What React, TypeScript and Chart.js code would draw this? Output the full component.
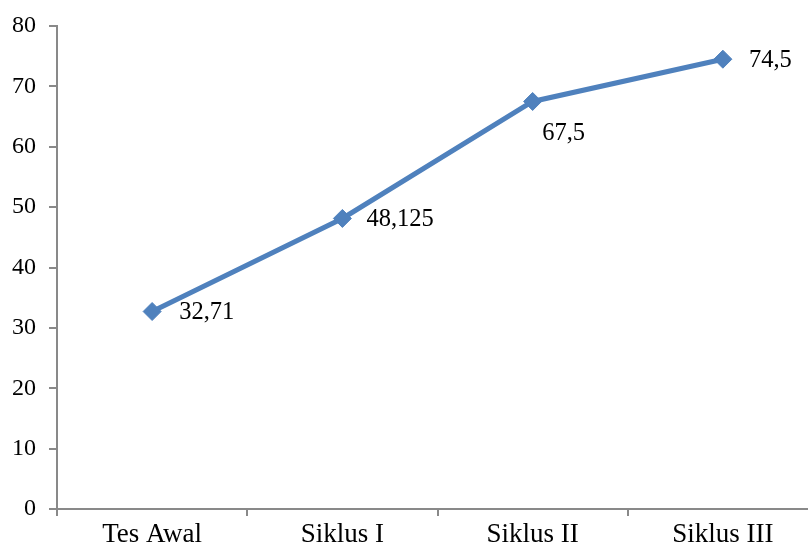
import React, { useEffect, useRef } from "react";
import { Chart, registerables } from "chart.js";

Chart.register(...registerables);

const categories = ["Tes Awal", "Siklus I", "Siklus II", "Siklus III"];
const values = [32.71, 48.125, 67.5, 74.5];
const valueLabels = ["32,71", "48,125", "67,5", "74,5"];
const yTicks = [0, 10, 20, 30, 40, 50, 60, 70, 80];

const FONT = "'Liberation Serif', 'Times New Roman', serif";
const LINE_COLOR = "#4F81BD";
const AXIS_COLOR = "#898989";

// label placement relative to each point: [dx, dy, align]
const labelPlacement: [number, number, CanvasTextAlign][] = [
  [27, 1, "left"],
  [24, 1, "left"],
  [31, 32, "center"],
  [26, 1, "left"],
];

const labelPlugin = {
  id: "valueLabels",
  afterDatasetsDraw(chart: any) {
    const ctx = chart.ctx;
    const meta = chart.getDatasetMeta(0);
    ctx.save();
    ctx.font = `24.5px ${FONT}`;
    ctx.fillStyle = "#000";
    ctx.textBaseline = "middle";
    meta.data.forEach((pt: any, i: number) => {
      const [dx, dy, align] = labelPlacement[i];
      ctx.textAlign = align;
      ctx.fillText(valueLabels[i], pt.x + dx, pt.y + dy);
    });
    ctx.restore();
  },
};

export default function App() {
  const ref = useRef<HTMLCanvasElement | null>(null);
  useEffect(() => {
    if (!ref.current) return;
    const chart = new Chart(ref.current, {
      type: "line",
      data: {
        labels: categories,
        datasets: [
          {
            data: values,
            borderColor: LINE_COLOR,
            backgroundColor: LINE_COLOR,
            borderWidth: 5,
            pointStyle: "rectRot",
            pointRadius: 9,
            pointHoverRadius: 9,
            pointBackgroundColor: LINE_COLOR,
            pointBorderColor: LINE_COLOR,
            pointBorderWidth: 1,
            tension: 0,
          },
        ],
      },
      options: {
        animation: false,
        responsive: false,
        maintainAspectRatio: false,
        layout: { padding: { top: 26, right: 2, left: 0, bottom: 0 } },
        plugins: { legend: { display: false }, tooltip: { enabled: false } },
        scales: {
          x: {
            type: "category",
            offset: true,
            grid: {
              offset: true,
              drawOnChartArea: false,
              drawTicks: true,
              tickLength: 7,
              color: AXIS_COLOR,
              lineWidth: 2,
            },
            border: { color: AXIS_COLOR, width: 2 },
            ticks: {
              color: "#000",
              font: { family: FONT, size: 27 },
              padding: 3,
              maxRotation: 0,
            },
            afterFit: (s: any) => {
              s.height = 44;
            },
          },
          y: {
            min: 0,
            max: 80,
            afterBuildTicks: (s: any) => {
              s.ticks = yTicks.map((v) => ({ value: v }));
            },
            grid: {
              drawOnChartArea: false,
              drawTicks: true,
              tickLength: 8,
              color: AXIS_COLOR,
              lineWidth: 2,
            },
            border: { color: AXIS_COLOR, width: 2 },
            ticks: {
              color: "#000",
              font: { family: FONT, size: 24 },
              padding: 13,
            },
            afterFit: (s: any) => {
              s.width = 57;
              s.paddingTop = 0;
              s.paddingBottom = 0;
            },
          },
        },
      },
      plugins: [labelPlugin],
    });
    return () => chart.destroy();
  }, []);

  return (
    <div
      style={{
        position: "fixed",
        left: 0,
        top: 0,
        width: 808,
        height: 553,
        overflow: "hidden",
        background: "#fff",
      }}
    >
      <canvas ref={ref} width={828} height={553} style={{ display: "block" }} />
    </div>
  );
}
